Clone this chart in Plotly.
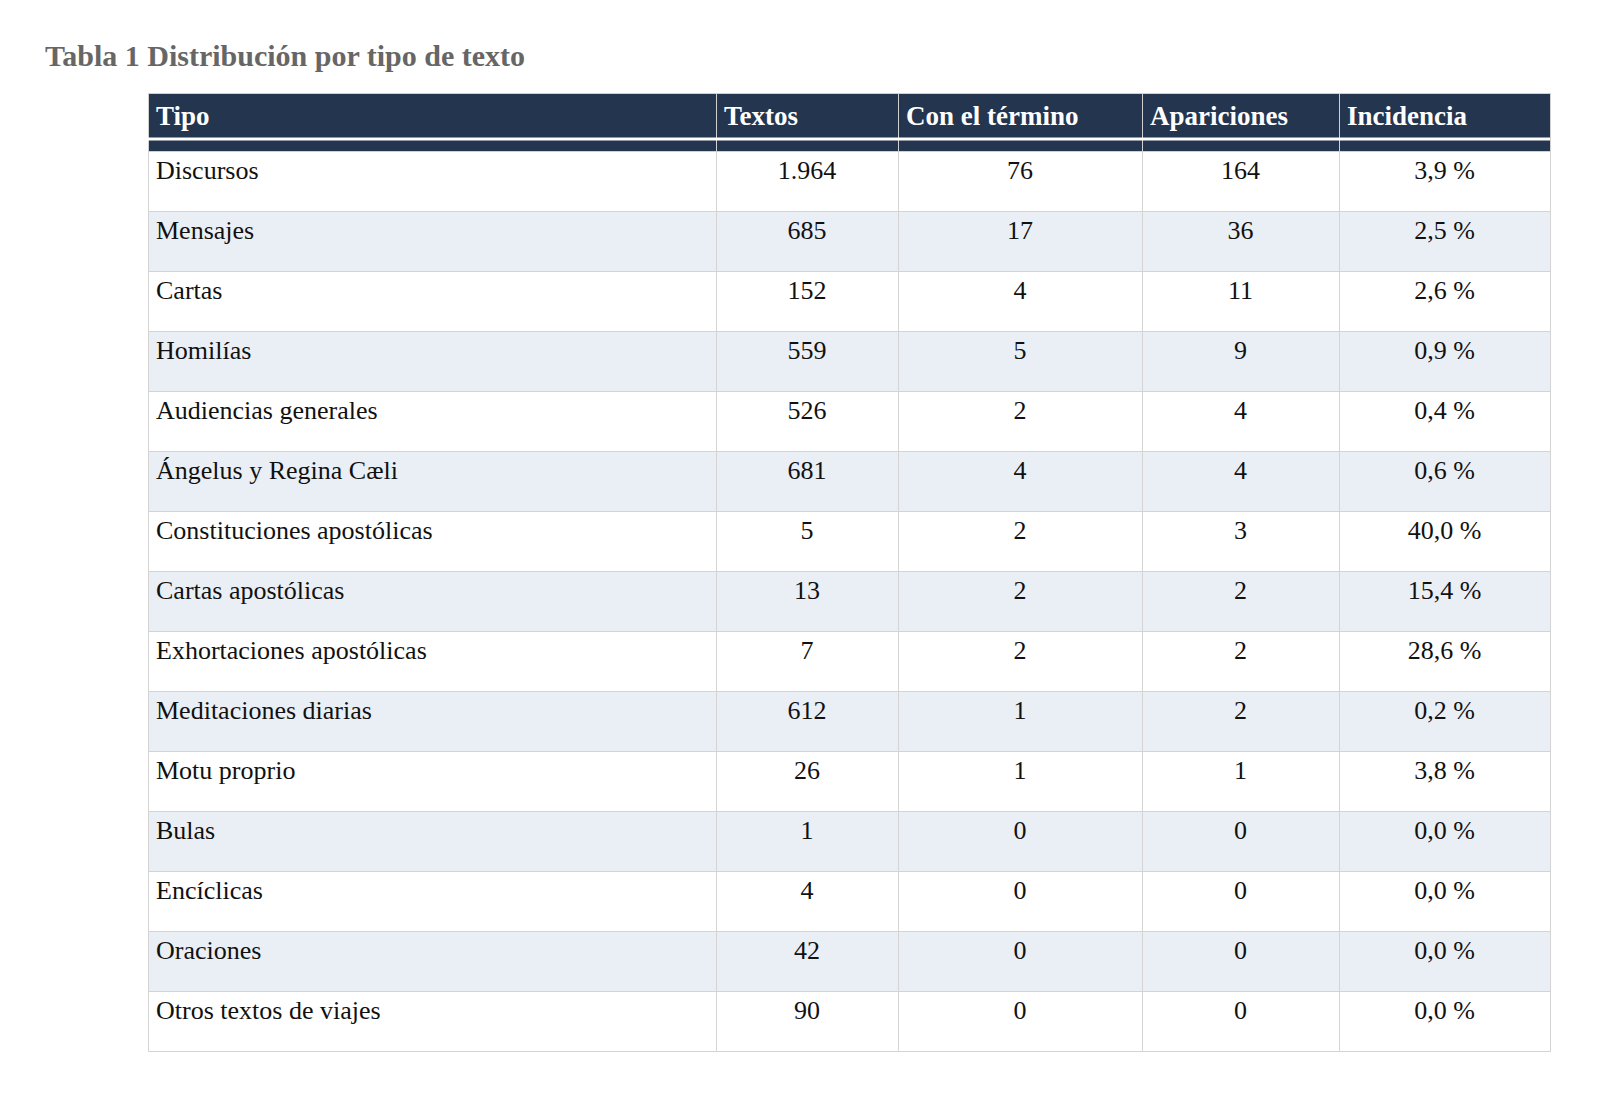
import plotly.graph_objects as go

tipos = ["Discursos","Mensajes","Cartas","Homilías","Audiencias generales","Ángelus y Regina Cæli",
         "Constituciones apostólicas","Cartas apostólicas","Exhortaciones apostólicas","Meditaciones diarias",
         "Motu proprio","Bulas","Encíclicas","Oraciones","Otros textos de viajes"]
textos = ["1.964","685","152","559","526","681","5","13","7","612","26","1","4","42","90"]
con_termino = [76,17,4,5,2,4,2,2,2,1,1,0,0,0,0]
apariciones = [164,36,11,9,4,4,3,2,2,2,1,0,0,0,0]
incidencia = ["3,9 %","2,5 %","2,6 %","0,9 %","0,4 %","0,6 %","40,0 %","15,4 %","28,6 %","0,2 %","3,8 %","0,0 %","0,0 %","0,0 %","0,0 %"]
headers = ["Tipo","Textos","Con el término","Apariciones","Incidencia"]

W, H = 1600, 1096
fill = [["#ffffff" if i % 2 == 0 else "#eaeff6" for i in range(len(tipos))]]
serif = "Liberation Serif, DejaVu Serif, serif"

fig = go.Figure(go.Table(
    domain=dict(x=[140/W, 1542/W], y=[1-1060/H, 1-85/H]),
    columnwidth=[568, 182, 244, 197, 211],
    header=dict(values=["<b>%s</b>" % h for h in headers], fill_color="#243550",
                line_color="#d0d0d0", align="left", height=58,
                font=dict(family=serif, size=27, color="white")),
    cells=dict(values=[tipos, textos, con_termino, apariciones, incidencia],
               fill_color=fill, line_color="#d4d4d4", height=60,
               align=["left","center","center","center","center"],
               font=dict(family=serif, size=26, color="#111111")),
))
fig.add_shape(type="line", xref="paper", yref="paper", x0=140/W, x1=1542/W,
              y0=1-131/H, y1=1-131/H, line=dict(color="white", width=3))
fig.add_annotation(text="<b>Tabla 1 Distribución por tipo de texto</b>", xref="paper", yref="paper",
                   x=35/W, y=1-48/H, xanchor="left", yanchor="middle", showarrow=False,
                   font=dict(family=serif, size=30, color="#666666"))
fig.update_layout(width=W, height=H, margin=dict(l=0, r=0, t=0, b=0),
                  paper_bgcolor="white", plot_bgcolor="white")
fig.write_html("out.html")
